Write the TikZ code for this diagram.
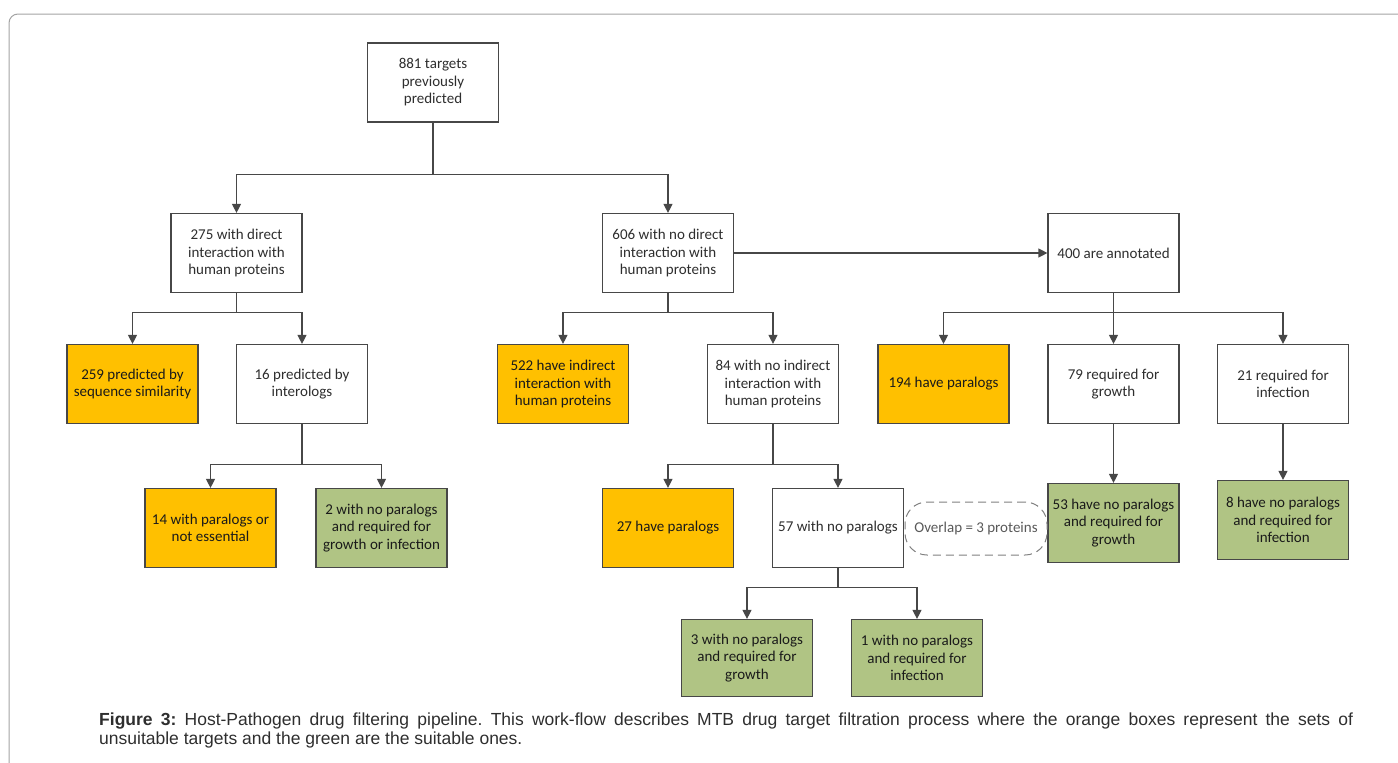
\documentclass[tikz,border=0pt]{standalone}
\usepackage{fontspec}
\setmainfont{Carlito}
\newfontfamily\capfont{Liberation Sans}
\usetikzlibrary{arrows.meta}

\definecolor{boxline}{HTML}{474747}
\definecolor{orangefill}{HTML}{FFC000}
\definecolor{greenfill}{HTML}{B0C484}
\definecolor{frameline}{HTML}{A3A3A3}
\definecolor{plaintext}{HTML}{2E2E2E}
\definecolor{darktext}{HTML}{1A1A1A}
\definecolor{captext}{HTML}{2E2E2E}

\tikzset{
    box/.style={draw=boxline, line width=1.2pt, fill=white, minimum width=131pt,
        minimum height=79pt, align=center, inner sep=2pt, text=plaintext,
        font=\fontsize{15}{17.5}\selectfont},
    orangebox/.style={box, fill=orangefill, text=darktext},
    greenbox/.style={box, fill=greenfill, text=darktext},
    overlapbox/.style={draw=gray, line width=1pt, dash pattern=on 8pt off 5pt,
        rounded corners=22pt, minimum width=142pt, minimum height=53pt,
        text=black!65, font=\fontsize{15}{17.5}\selectfont},
    link/.style={draw=boxline, line width=1.2pt},
    arr/.style={link, -{Triangle[width=9pt,length=9pt]}},
}

\begin{document}
\begin{tikzpicture}[x=1pt, y=-1pt]
    \useasboundingbox (0,0) rectangle (1398,763);
    \draw[frameline, line width=1pt, rounded corners=9pt] (9,763) -- (9,14) -- (1398,14);

    \node[box] (n881) at (433,82.5) {881 targets\\previously\\predicted};

    \node[box] (n275) at (236.5,253) {275 with direct\\interaction with\\human proteins};
    \node[box] (n606) at (668,253) {606 with no direct\\interaction with\\human proteins};
    \node[box] (n400) at (1113.5,253) {400 are annotated};

    \node[orangebox] (n259) at (132.5,384) {259 predicted by\\sequence similarity};
    \node[box] (n16) at (302,384) {16 predicted by\\interologs};
    \node[orangebox] (n522) at (563,384) {522 have indirect\\interaction with\\human proteins};
    \node[box] (n84) at (773,384) {84 with no indirect\\interaction with\\human proteins};
    \node[orangebox] (n194) at (943.5,384) {194 have paralogs};
    \node[box] (n79) at (1113.5,384) {79 required for\\growth};
    \node[box] (n21) at (1283,384) {21 required for\\infection};

    \node[orangebox] (n14) at (210.5,528) {14 with paralogs or\\not essential};
    \node[greenbox] (n2) at (381.5,528) {2 with no paralogs\\and required for\\growth or infection};
    \node[orangebox] (n27) at (668,528) {27 have paralogs};
    \node[box] (n57) at (838,528) {57 with no paralogs};
    \node[greenbox] (n53) at (1113.5,523) {53 have no paralogs\\and required for\\growth};
    \node[greenbox] (n8) at (1283,520) {8 have no paralogs\\and required for\\infection};

    \node[greenbox, minimum height=77pt] (n3) at (747,658) {3 with no paralogs\\and required for\\growth};
    \node[greenbox, minimum height=77pt] (n1) at (917,658) {1 with no paralogs\\and required for\\infection};

    \node[overlapbox] (overlap) at (976,528.5) {Overlap = 3 proteins};

    \draw[arr] (n881.south) -- ++(0,52) -| (n275.north);
    \draw[arr] (n881.south) -- ++(0,52) -| (n606.north);

    \draw[arr] (n275.south) -- ++(0,19) -| (n259.north);
    \draw[arr] (n275.south) -- ++(0,19) -| (n16.north);
    \draw[arr] (n606.south) -- ++(0,19) -| (n522.north);
    \draw[arr] (n606.south) -- ++(0,19) -| (n84.north);
    \draw[arr] (n606.east) -- (n400.west);
    \draw[arr] (n400.south) -- ++(0,19) -| (n194.north);
    \draw[arr] (n400.south) -- (n79.north);
    \draw[arr] (n400.south) -- ++(0,19) -| (n21.north);

    \draw[arr] (n16.south) -- ++(0,40) -| (n14.north);
    \draw[arr] (n16.south) -- ++(0,40) -| (n2.north);
    \draw[arr] (n84.south) -- ++(0,40) -| (n27.north);
    \draw[arr] (n84.south) -- ++(0,40) -| (n57.north);
    \draw[arr] (n79.south) -- (n53.north);
    \draw[arr] (n21.south) -- (n8.north);

    \draw[arr] (n57.south) -- ++(0,19) -| (n3.north);
    \draw[arr] (n57.south) -- ++(0,19) -| (n1.north);

    \node[anchor=north west, inner sep=0pt, text width=1254pt, align=justify, text=captext,
        font=\capfont\fontsize{17.5}{19}\selectfont\frenchspacing] (caption) at (99,713)
        {\textbf{Figure 3:} Host-Pathogen drug filtering pipeline. This work-flow describes MTB drug target filtration process where the orange boxes represent the sets of\linebreak unsuitable targets and the green are the suitable ones.};
\end{tikzpicture}
\end{document}
